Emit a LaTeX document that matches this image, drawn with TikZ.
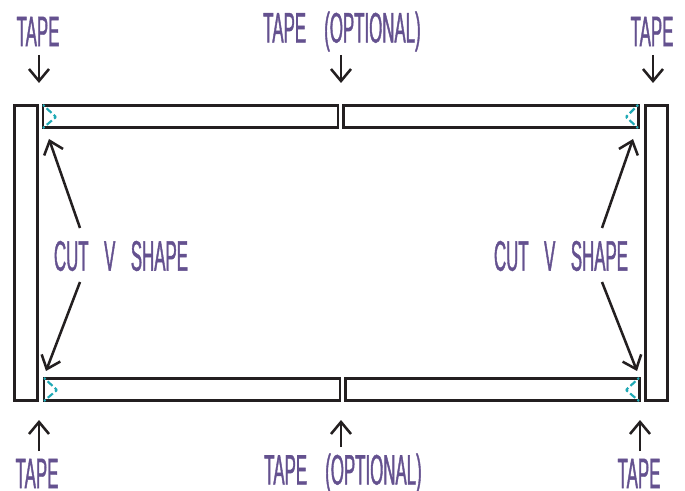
\documentclass[tikz,border=0pt]{standalone}
\usepackage{fontspec}
\setmainfont{Liberation Sans}
\newfontfamily\handfont[FakeStretch=0.395,FakeBold=0.9,WordSpace=1.6]{Liberation Sans}
\usetikzlibrary{arrows.meta}
\definecolor{ink}{HTML}{231F20}
\definecolor{lab}{HTML}{64518F}
\definecolor{cutc}{HTML}{1FA9B5}
\tikzset{
  x=0.75pt,y=-0.75pt,
  bar/.style={draw=ink,line width=2.1pt,fill=white,rectangle,inner sep=0pt,outer sep=0pt},
  lbl/.style={text=lab,font=\handfont\fontsize{32}{32}\selectfont,inner sep=0pt,outer sep=0pt,anchor=center},
  arr/.style={draw=ink,line width=1.9pt,-{Straight Barb[length=9pt,width=15pt,line width=1.9pt]}},
  cutv/.style={draw=cutc,line width=1.6pt,dash pattern=on 1.5pt off 2.2pt on 5pt off 2.2pt on 3pt off 5pt}
}
\newcommand{\barbox}[5]{\node[bar,minimum width=#4*0.75pt,minimum height=#5*0.75pt] (#1) at ({#2},{#3}) {};}
\begin{document}
\begin{tikzpicture}
\useasboundingbox (0,0) rectangle (685,491);
\barbox{lbar}{26}{253}{23}{295}
\barbox{rbar}{656.5}{253}{22}{295}
\barbox{tl}{190.5}{116.5}{295}{22}
\barbox{tr}{491}{116.5}{295}{22}
\barbox{bl}{192}{389.5}{296}{22}
\barbox{br}{492.5}{389.5}{294}{22}
% cut marks
\coordinate (c1a) at (43,105); \coordinate (c1b) at (56,117); \coordinate (c1c) at (43,128);
\coordinate (c2a) at (638,105); \coordinate (c2b) at (626,117); \coordinate (c2c) at (638,128);
\coordinate (c3a) at (44,378); \coordinate (c3b) at (57,390); \coordinate (c3c) at (44,401);
\coordinate (c4a) at (639,378); \coordinate (c4b) at (626,390); \coordinate (c4c) at (639,401);
\foreach \i in {1,2,3,4} {
  \draw[cutv] (c\i a) -- (c\i b);
  \draw[cutv] (c\i c) -- (c\i b);
}
% labels
\node[lbl] (t1) at (38,31.5) {TAPE};
\node[lbl] (t2) at (342,31.5) {TAPE\hspace{8pt} (OPTIONAL)};
\node[lbl] (t3) at (652,31.5) {TAPE};
\node[lbl] (t4) at (37,473.5) {TAPE};
\node[lbl] (t5) at (343,473.5) {TAPE\hspace{8pt} (OPTIONAL)};
\node[lbl] (t6) at (639,473.5) {TAPE};
\node[lbl] (v1) at (121,256) {CUT\hspace{6pt} V\hspace{6pt} SHAPE};
\node[lbl] (v2) at (561,256) {CUT\hspace{6pt} V\hspace{6pt} SHAPE};
% arrow ends
\coordinate (s1) at (39,55); \coordinate (e1) at (39,83);
\coordinate (s2) at (341,55); \coordinate (e2) at (341,83);
\coordinate (s3) at (653,55); \coordinate (e3) at (653,83);
\coordinate (s4) at (39,451); \coordinate (e4) at (39,420);
\coordinate (s5) at (341,447); \coordinate (e5) at (341,420);
\coordinate (s6) at (640,451); \coordinate (e6) at (640,420);
\coordinate (s7) at (80,228); \coordinate (e7) at (49,139);
\coordinate (s8) at (80,282); \coordinate (e8) at (46,371);
\coordinate (s9) at (602,228); \coordinate (e9) at (633,139);
\coordinate (s10) at (602,282); \coordinate (e10) at (637,371);
\foreach \i in {1,...,10} {\draw[arr] (s\i) -- (e\i);}
\end{tikzpicture}
\end{document}
